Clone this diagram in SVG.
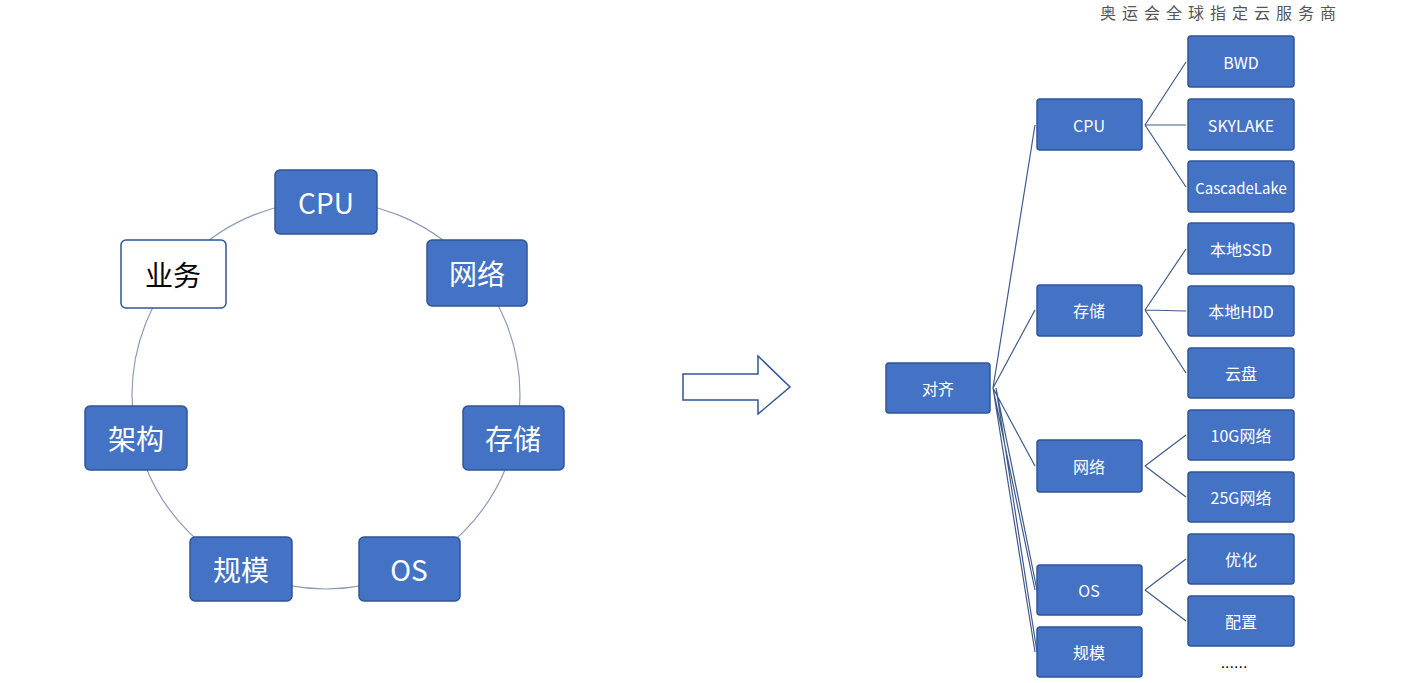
<svg xmlns="http://www.w3.org/2000/svg" width="1406" height="683" viewBox="0 0 1406 683">
<style>
.b{fill:#4472C4;stroke:#2F5597;stroke-width:1.5}
.w{fill:#fff;stroke:#2F5597;stroke-width:1.5}
.t{font-family:"Noto Sans CJK SC","Liberation Sans",sans-serif;text-anchor:middle;dominant-baseline:central;fill:#fff}
.L{font-size:28px}.S{font-size:16px}
.c{stroke:#3F5A8A;stroke-width:1.2;fill:none}
</style>
<rect width="1406" height="683" fill="#fff"/>
<text x="1221" y="12" font-family="Noto Sans CJK SC,sans-serif" font-size="16" fill="#555" text-anchor="middle" dominant-baseline="central" letter-spacing="6">奥运会全球指定云服务商</text>
<g id="connectors">
<circle cx="326" cy="395" r="194" fill="none" stroke="#8E9BB8" stroke-width="1.2"/>
<path class="c" d="M993 388L1035 125M993 388L1035 310M993 388L1035 466M993 388L1035 590M993 388L1035 652M996 388L1037 590M996 388L1037 652"/>
<path class="c" d="M1145 125L1186 62M1145 125L1186 125M1145 125L1186 187M1145 310L1186 249M1145 310L1186 311M1145 310L1186 373M1145 466L1186 435M1145 466L1186 497M1145 590L1186 559M1145 590L1186 621"/>
</g>
<path d="M683 374H758V356L790 387L758 414V400H683Z" fill="#fff" stroke="#2F5597" stroke-width="1.5"/>
<g id="cpu"><rect class="b" x="275" y="170" width="102" height="64" rx="5"/><text class="t L" x="326" y="202">CPU</text></g>
<g id="net"><rect class="b" x="427" y="240" width="100" height="66" rx="5"/><text class="t L" x="477" y="273">网络</text></g>
<g id="biz"><rect class="w" x="121" y="240" width="105" height="68" rx="5"/><text class="t L" x="173" y="274" style="fill:#000">业务</text></g>
<g id="sto"><rect class="b" x="463" y="406" width="101" height="64" rx="5"/><text class="t L" x="513" y="438">存储</text></g>
<g id="arch"><rect class="b" x="85" y="406" width="102" height="64" rx="5"/><text class="t L" x="136" y="438">架构</text></g>
<g id="scale"><rect class="b" x="190" y="537" width="102" height="64" rx="5"/><text class="t L" x="241" y="569">规模</text></g>
<g id="os"><rect class="b" x="359" y="537" width="101" height="64" rx="5"/><text class="t L" x="409" y="569">OS</text></g>
<g id="align"><rect class="b" x="886" y="363" width="104" height="50" rx="3"/><text class="t S" x="938" y="388">对齐</text></g>
<g id="r-cpu"><rect class="b" x="1037" y="99" width="105" height="51" rx="3"/><text class="t S" x="1089" y="125">CPU</text></g>
<g id="r-sto"><rect class="b" x="1037" y="285" width="105" height="51" rx="3"/><text class="t S" x="1089" y="310">存储</text></g>
<g id="r-net"><rect class="b" x="1037" y="440" width="105" height="52" rx="3"/><text class="t S" x="1089" y="466">网络</text></g>
<g id="r-os"><rect class="b" x="1037" y="565" width="105" height="50" rx="3"/><text class="t S" x="1089" y="590">OS</text></g>
<g id="r-scale"><rect class="b" x="1037" y="627" width="105" height="50" rx="3"/><text class="t S" x="1089" y="652">规模</text></g>
<g id="bwd"><rect class="b" x="1188" y="36" width="106" height="51" rx="3"/><text class="t S" x="1241" y="62">BWD</text></g>
<g id="sky"><rect class="b" x="1188" y="99" width="106" height="51" rx="3"/><text class="t S" x="1241" y="125">SKYLAKE</text></g>
<g id="cas"><rect class="b" x="1188" y="161" width="106" height="51" rx="3"/><text class="t S" x="1241" y="187" style="font-size:15px">CascadeLake</text></g>
<g id="ssd"><rect class="b" x="1188" y="223" width="106" height="51" rx="3"/><text class="t S" x="1241" y="249">本地SSD</text></g>
<g id="hdd"><rect class="b" x="1188" y="286" width="106" height="50" rx="3"/><text class="t S" x="1241" y="311">本地HDD</text></g>
<g id="cloud"><rect class="b" x="1188" y="348" width="106" height="50" rx="3"/><text class="t S" x="1241" y="373">云盘</text></g>
<g id="n10"><rect class="b" x="1188" y="410" width="106" height="50" rx="3"/><text class="t S" x="1241" y="435">10G网络</text></g>
<g id="n25"><rect class="b" x="1188" y="472" width="106" height="50" rx="3"/><text class="t S" x="1241" y="497">25G网络</text></g>
<g id="opt"><rect class="b" x="1188" y="534" width="106" height="50" rx="3"/><text class="t S" x="1241" y="559">优化</text></g>
<g id="cfg"><rect class="b" x="1188" y="596" width="106" height="50" rx="3"/><text class="t S" x="1241" y="621">配置</text></g>
<text x="1234" y="668" font-family="Liberation Sans,sans-serif" font-size="16" text-anchor="middle" fill="#000">......</text>
</svg>
